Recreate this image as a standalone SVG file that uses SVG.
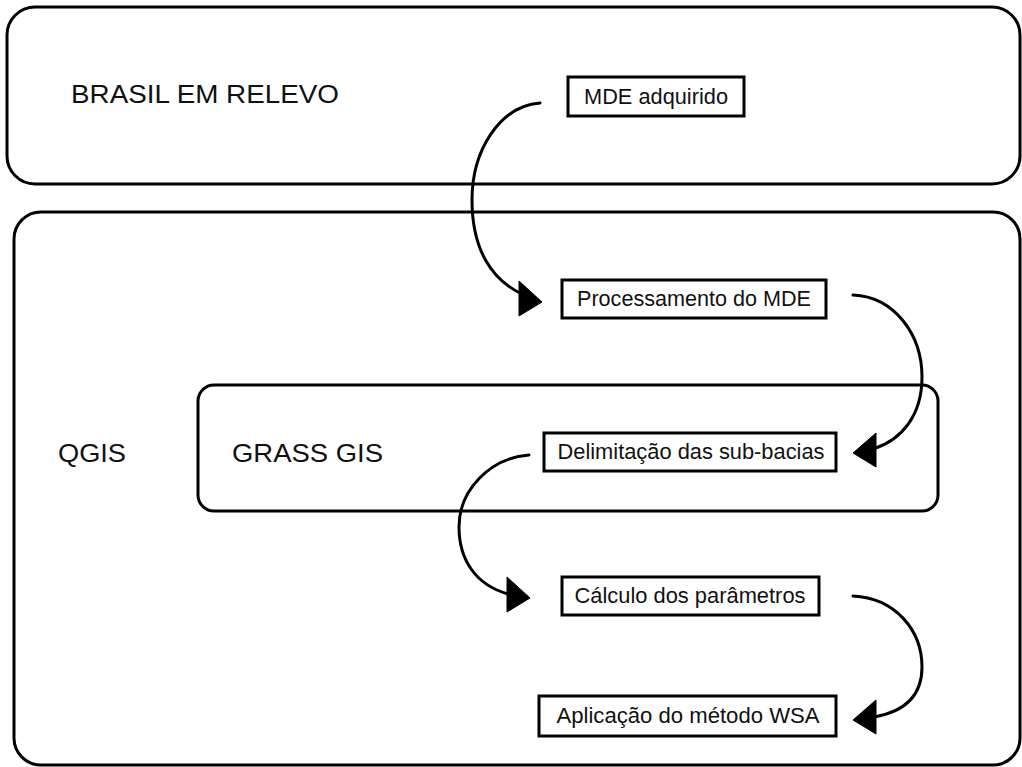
<svg xmlns="http://www.w3.org/2000/svg" width="1022" height="767" viewBox="0 0 1022 767">
  <style>
    .container { fill: none; stroke: #000; stroke-width: 3; }
    .box { fill: #fff; stroke: #000; stroke-width: 3; }
    .label { font-family: "Liberation Sans", Arial, sans-serif; font-size: 25px; fill: #111; }
    .btext { font-family: "Liberation Sans", Arial, sans-serif; font-size: 22px; fill: #111; text-anchor: middle; }
    .conn { fill: none; stroke: #000; stroke-width: 3; stroke-linecap: round; }
    .head { fill: #000; stroke: #000; stroke-width: 1; stroke-linejoin: round; }
  </style>
  <defs>
    <polygon id="headR" points="0,0 -23,-21 -23,14"/>
    <polygon id="headL" points="0,0 23,-20 23,14"/>
  </defs>
  <rect width="1022" height="767" fill="#fff"/>

  <g id="brasil-em-relevo">
    <rect class="container" x="7" y="7" width="1013" height="177" rx="28" ry="28"/>
    <text class="label" x="71" y="103" textLength="268" lengthAdjust="spacingAndGlyphs">BRASIL EM RELEVO</text>
  </g>

  <g id="qgis">
    <rect class="container" x="14" y="212" width="1006" height="553" rx="27" ry="27"/>
    <text class="label" x="58" y="462" textLength="68" lengthAdjust="spacingAndGlyphs">QGIS</text>
  </g>

  <g id="grass-gis">
    <rect class="container" x="198" y="385" width="740" height="126" rx="16" ry="16"/>
    <text class="label" x="232" y="462" textLength="151" lengthAdjust="spacingAndGlyphs">GRASS GIS</text>
  </g>

  <g id="mde-adquirido">
    <rect class="box" x="568" y="77" width="176" height="39"/>
    <text class="btext" x="656" y="104" textLength="144" lengthAdjust="spacingAndGlyphs">MDE adquirido</text>
  </g>

  <g id="processamento">
    <rect class="box" x="562" y="280" width="264" height="38"/>
    <text class="btext" x="694" y="306" textLength="234" lengthAdjust="spacingAndGlyphs">Processamento do MDE</text>
  </g>

  <g id="delimitacao">
    <rect class="box" x="544" y="433" width="292" height="38"/>
    <text class="btext" x="691" y="459" textLength="267" lengthAdjust="spacingAndGlyphs">Delimitação das sub-bacias</text>
  </g>

  <g id="calculo">
    <rect class="box" x="562" y="577" width="257" height="38"/>
    <text class="btext" x="690" y="603" textLength="231" lengthAdjust="spacingAndGlyphs">Cálculo dos parâmetros</text>
  </g>

  <g id="aplicacao">
    <rect class="box" x="539" y="696" width="297" height="40"/>
    <text class="btext" x="688" y="723" textLength="263" lengthAdjust="spacingAndGlyphs">Aplicação do método WSA</text>
  </g>

  <g id="connectors">
    <path class="conn" d="M540,103 C500,106 472,150 472,200 C472,250 492,280 522,294"/>
    <use href="#headR" class="head" x="542" y="302"/>
    <path class="conn" d="M853,295 C895,297 922,335 922,377 C922,415 902,440 873,449"/>
    <use href="#headL" class="head" x="853" y="453"/>
    <path class="conn" d="M529,455 C490,458 459,490 459,527 C459,560 476,585 508,594"/>
    <use href="#headR" class="head" x="530" y="598"/>
    <path class="conn" d="M853,596 C895,598 922,630 922,667 C922,697 903,712 874,717"/>
    <use href="#headL" class="head" x="853" y="720"/>
  </g>
</svg>
